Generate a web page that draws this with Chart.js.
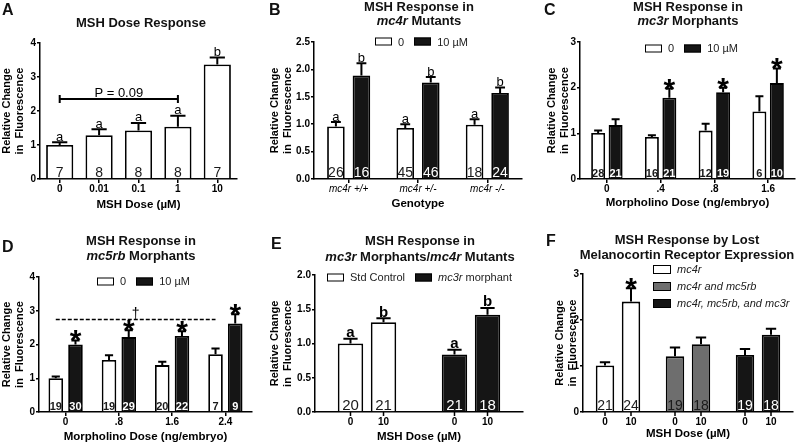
<!DOCTYPE html>
<html>
<head>
<meta charset="utf-8">
<script src="https://cdn.jsdelivr.net/npm/chart.js@4.4.0/dist/chart.umd.min.js"></script>
<style>
  body { margin: 0; background: #fff; }
  #fig { position: relative; width: 797px; height: 445px; overflow: hidden;
         font-family: 'Liberation Sans', Arial, Helvetica, sans-serif; color: #111; }
  #fig canvas { position: absolute; }
  .letter { position: absolute; font-weight: bold; font-size: 16px; line-height: 1; }
  .ttl { position: absolute; font-weight: bold; font-size: 13px; line-height: 1;
         transform: translate(-50%, -50%); white-space: nowrap; }
  .leg { position: absolute; display: flex; align-items: center; font-size: 11px; line-height: 1;
         transform: translateY(-50%); white-space: nowrap; color: #222; }
  .leg .it { display: flex; align-items: center; }
  .leg .box { width: 17px; height: 8px; border: 1.5px solid #000; box-sizing: border-box; margin-right: 6px; }
  .leg span { margin-right: 10px; }
  .leg.vert { flex-direction: column; align-items: flex-start; transform: none; font-style: italic; }
  .leg.vert .it { height: 17px; }
  .leg.vert .box { width: 18px; height: 9px; }
</style>
</head>
<body>
<div id="fig">
  <canvas id="cA" width="265" height="220" style="left:0;top:0"></canvas>
  <canvas id="cB" width="265" height="220" style="left:265px;top:0"></canvas>
  <canvas id="cC" width="267" height="220" style="left:530px;top:0"></canvas>
  <canvas id="cD" width="265" height="225" style="left:0;top:220px"></canvas>
  <canvas id="cE" width="265" height="225" style="left:265px;top:220px"></canvas>
  <canvas id="cF" width="267" height="225" style="left:530px;top:220px"></canvas>

  <div class="letter" style="left:2px;top:2px">A</div>
  <div class="letter" style="left:269px;top:2px">B</div>
  <div class="letter" style="left:544px;top:2px">C</div>
  <div class="letter" style="left:2px;top:239px">D</div>
  <div class="letter" style="left:271px;top:236px">E</div>
  <div class="letter" style="left:546px;top:233px">F</div>

  <div class="ttl" style="left:141px;top:22px">MSH Dose Response</div>
  <div class="ttl" style="left:419px;top:6px">MSH Response in</div>
  <div class="ttl" style="left:419px;top:20px"><i>mc4r</i> Mutants</div>
  <div class="ttl" style="left:688px;top:6px">MSH Response in</div>
  <div class="ttl" style="left:688px;top:20px"><i>mc3r</i> Morphants</div>
  <div class="ttl" style="left:141px;top:240px">MSH Response in</div>
  <div class="ttl" style="left:141px;top:255px"><i>mc5rb</i> Morphants</div>
  <div class="ttl" style="left:420px;top:240px">MSH Response in</div>
  <div class="ttl" style="left:420px;top:256px"><i>mc3r</i> Morphants/<i>mc4r</i> Mutants</div>
  <div class="ttl" style="left:687px;top:239px">MSH Response by Lost</div>
  <div class="ttl" style="left:687px;top:254px">Melanocortin Receptor Expression</div>
</div>

<script>
const FONT = "'Liberation Sans', Arial, Helvetica, sans-serif";
const WHITE = '#ffffff';
const BLACK = '#151515';
const GRAY = '#6e6e6e';

// --- Data ---

const treatLabels = ['0', '10 µM'];
const yTitle = ['Relative Change', 'in  Fluorescence'];

// A: dose response
const dosesA = ['0', '0.01', '0.1', '1', '10'];
const meanA = [1.0, 1.29, 1.43, 1.54, 3.37];
const semA = [0.08, 0.17, 0.22, 0.32, 0.2];
const nA = [7, 8, 8, 8, 7];
const sigA = ['a', 'a', 'a', 'a', 'b'];

// B: mc4r mutants
const genotypesB = ['mc4r +/+', 'mc4r +/-', 'mc4r -/-'];
const vehicleB = [0.96, 0.93, 0.99];
const vehicleSemB = [0.08, 0.07, 0.1];
const mshB = [1.89, 1.76, 1.57];
const mshSemB = [0.22, 0.1, 0.1];
const vehicleNB = [26, 45, 18];
const mshNB = [16, 46, 24];
const vehicleSigB = ['a', 'a', 'a'];
const mshSigB = ['b', 'b', 'b'];

// C: mc3r morphants
const moDoseC = ['0', '.4', '.8', '1.6'];
const vehicleC = [1.01, 0.92, 1.06, 1.48];
const vehicleSemC = [0.05, 0.04, 0.15, 0.33];
const mshC = [1.18, 1.78, 1.9, 2.1];
const mshSemC = [0.13, 0.2, 0.1, 0.32];
const vehicleNC = [28, 16, 12, 6];
const mshNC = [21, 21, 19, 10];
const mshSigC = ['', '*', '*', '*'];

// D: mc5rb morphants
const moDoseD = ['0', '.8', '1.6', '2.4'];
const vehicleD = [1.0, 1.54, 1.39, 1.71];
const vehicleSemD = [0.05, 0.14, 0.1, 0.17];
const mshD = [2.0, 2.22, 2.25, 2.62];
const mshSemD = [0.12, 0.2, 0.14, 0.28];
const vehicleND = [19, 19, 20, 7];
const mshND = [30, 29, 22, 9];
const mshSigD = ['*', '*', '*', '*'];

// E: mc3r morphants in mc4r mutants (values per group: [0, 10])
const mshDoses = ['0', '10'];
const groupsE = ['Std Control', 'mc3r morphant'];
const stdControlE = [1.0, 1.31];
const stdControlSemE = [0.07, 0.06];
const morphantE = [0.84, 1.42];
const morphantSemE = [0.07, 0.1];
const stdControlNE = [20, 21];
const morphantNE = [21, 18];
const sigE = ['a', 'b'];

// F: lost receptor expression (values per group: [0, 10])
const groupsF = ['mc4r', 'mc4r and mc5rb', 'mc4r, mc5rb, and mc3r'];
const mc4rF = [1.01, 2.4];
const mc4rSemF = [0.07, 0.29];
const mc4r5rbF = [1.21, 1.475];
const mc4r5rbSemF = [0.19, 0.145];
const tripleF = [1.24, 1.68];
const tripleSemF = [0.13, 0.13];
const mc4rNF = [21, 24];
const mc4r5rbNF = [19, 18];
const tripleNF = [19, 18];

// --- Helpers ---

// turn per-group [dose0, dose10] arrays into per-dose arrays over groups
function byDose(groups) {
    return mshDoses.map((_, d) => groups.map(g => g[d]));
}

const extras = {};

const marksPlugin = {
    id: 'marks',
    afterDatasetsDraw(chart) {
        const ex = extras[chart.canvas.id];
        if (!ex) return;
        const ctx = chart.ctx;
        const y = chart.scales.y;
        const area = chart.chartArea;
        ctx.save();
        ctx.textAlign = 'center';
        chart.data.datasets.forEach((ds, di) => {
            const meta = chart.getDatasetMeta(di);
            meta.data.forEach((bar, i) => {
                const v = ds.data[i];
                if (v == null) return;
                const top = y.getPixelForValue(v + ex.err[di][i]);
                const half = Math.max(4, bar.width * 0.28);

                // error bar (upper only)
                ctx.strokeStyle = '#000';
                ctx.lineWidth = 2;
                ctx.beginPath();
                ctx.moveTo(bar.x, bar.y);
                ctx.lineTo(bar.x, top);
                ctx.moveTo(bar.x - half, top);
                ctx.lineTo(bar.x + half, top);
                ctx.stroke();

                // n inside the bar
                const fill = Array.isArray(ds.backgroundColor) ? ds.backgroundColor[i] : ds.backgroundColor;
                ctx.fillStyle = fill === BLACK ? '#fff' : '#1a1a1a';
                ctx.font = ex.nFont;
                ctx.textBaseline = 'alphabetic';
                ctx.fillText(String(ex.n[di][i]), bar.x, area.bottom - 2);

                // letters / stars
                const s = ex.sig && ex.sig[di] && ex.sig[di][i];
                ctx.fillStyle = '#000';
                if (s === '*') {
                    ctx.font = 'bold 30px ' + FONT;
                    ctx.fillText('*', bar.x, top + 10);
                } else if (s) {
                    ctx.font = ex.sigFont;
                    ctx.fillText(s, bar.x, top - 1.5);
                }

                // dose labels under each bar
                if (ex.doseLabels) {
                    ctx.lineWidth = 1.5;
                    ctx.beginPath();
                    ctx.moveTo(bar.x, area.bottom);
                    ctx.lineTo(bar.x, area.bottom + 4);
                    ctx.stroke();
                    ctx.font = 'bold 10px ' + FONT;
                    ctx.textBaseline = 'middle';
                    ctx.fillText(ds.label, bar.x, area.bottom + 10);
                }
            });
        });

        if (ex.bracket) {
            const b = ex.bracket;
            const bars = chart.getDatasetMeta(0).data;
            const x1 = bars[b.from].x;
            const x2 = bars[b.to].x;
            const yy = y.getPixelForValue(b.value);
            ctx.strokeStyle = '#000';
            ctx.lineWidth = b.dashed ? 1.5 : 2;
            ctx.setLineDash(b.dashed ? [4, 2] : []);
            ctx.beginPath();
            ctx.moveTo(x1, yy);
            ctx.lineTo(x2, yy);
            ctx.stroke();
            ctx.setLineDash([]);
            if (!b.dashed) {
                ctx.beginPath();
                ctx.moveTo(x1, yy - 4); ctx.lineTo(x1, yy + 4);
                ctx.moveTo(x2, yy - 4); ctx.lineTo(x2, yy + 4);
                ctx.stroke();
            }
            ctx.font = b.font;
            ctx.fillStyle = '#000';
            ctx.textBaseline = 'alphabetic';
            ctx.fillText(b.text, (x1 + x2) / 2, yy - 2);
        }
        ctx.restore();
    }
};

function makeChart(id, cfg) {
    const tickFont = { family: FONT, size: 10, weight: 'bold' };
    return new Chart(document.getElementById(id), {
        type: 'bar',
        data: {
            labels: cfg.labels,
            datasets: cfg.datasets.map(d => ({
                label: d.label,
                data: d.data,
                backgroundColor: d.color,
                borderColor: '#000',
                borderWidth: 1.8,
                borderSkipped: 'bottom',
                barPercentage: cfg.barPct,
                categoryPercentage: cfg.catPct
            }))
        },
        options: {
            responsive: false,
            animation: false,
            events: [],
            layout: { padding: { top: cfg.padT, right: cfg.padR, left: 0, bottom: 0 } },
            plugins: { legend: { display: false }, tooltip: { enabled: false } },
            scales: {
                x: {
                    offset: true,
                    afterFit(s) { s.height = cfg.xH; },
                    border: { color: '#000', width: 1.5 },
                    grid: { display: !cfg.doseTicks, offset: false, drawOnChartArea: false,
                            tickLength: 4, color: '#000', lineWidth: 1.5 },
                    ticks: { display: !cfg.doseTicks, color: '#000', padding: 0, maxRotation: 0,
                             autoSkip: false, font: cfg.xFont || tickFont },
                    title: { display: true, text: cfg.xTitle, color: '#000',
                             font: { family: FONT, size: 11.5, weight: 'bold', lineHeight: 1.2 },
                             padding: { top: 0, bottom: cfg.xTitlePad } }
                },
                y: {
                    min: 0,
                    max: cfg.yMax,
                    afterFit(s) { s.width = cfg.yW; },
                    border: { color: '#000', width: 1.5 },
                    grid: { drawOnChartArea: false, tickLength: 3, color: '#000', lineWidth: 1.5 },
                    ticks: { stepSize: cfg.yStep, color: '#000', padding: 1, font: tickFont,
                             callback: v => v.toFixed(cfg.yDec) },
                    title: { display: true, text: yTitle, color: '#000',
                             font: { family: FONT, size: 11, weight: 'bold', lineHeight: 1.2 },
                             padding: { top: cfg.yTitlePad, bottom: 0 } }
                }
            }
        },
        plugins: [marksPlugin]
    });
}

function legend(left, top, items, vertical) {
    const el = document.createElement('div');
    el.className = 'leg' + (vertical ? ' vert' : '');
    el.style.left = left + 'px';
    el.style.top = top + 'px';
    items.forEach(([label, color]) => {
        const it = document.createElement('div');
        it.className = 'it';
        const box = document.createElement('div');
        box.className = 'box';
        box.style.background = color;
        const t = document.createElement('span');
        t.innerHTML = vertical ? label : label.replace(/(mc\d\w*)/g, '<i>$1</i>');
        it.append(box, t);
        el.append(it);
    });
    document.getElementById('fig').append(el);
}

// --- Panels ---

extras.cA = {
    err: [semA], n: [nA], sig: [sigA],
    nFont: '14px ' + FONT, sigFont: '13px ' + FONT,
    bracket: { from: 0, to: 3, value: 2.35, text: 'P = 0.09', font: '13px ' + FONT }
};
makeChart('cA', {
    labels: dosesA,
    datasets: [{ label: 'MSH', data: meanA, color: WHITE }],
    barPct: 0.69, catPct: 1,
    yMax: 4, yStep: 1, yDec: 0,
    padT: 43, padR: 28, yW: 40, xH: 41, yTitlePad: 0.4,
    xTitle: 'MSH Dose (µM)', xTitlePad: 8.4
});

extras.cB = {
    err: [vehicleSemB, mshSemB], n: [vehicleNB, mshNB], sig: [vehicleSigB, mshSigB],
    nFont: '14px ' + FONT, sigFont: '13px ' + FONT
};
makeChart('cB', {
    labels: genotypesB,
    datasets: [
        { label: treatLabels[0], data: vehicleB, color: WHITE },
        { label: treatLabels[1], data: mshB, color: BLACK }
    ],
    barPct: 0.69, catPct: 0.736,
    yMax: 2.5, yStep: 0.5, yDec: 1,
    padT: 42, padR: 8, yW: 49, xH: 41, yTitlePad: 3.4,
    xTitle: 'Genotype', xTitlePad: 9.4,
    xFont: { family: FONT, size: 10, style: 'italic', weight: 'normal' }
});
legend(375, 41.5, [[treatLabels[0], WHITE], [treatLabels[1], BLACK]]);

extras.cC = {
    err: [vehicleSemC, mshSemC], n: [vehicleNC, mshNC], sig: [[], mshSigC],
    nFont: 'bold 11px ' + FONT
};
makeChart('cC', {
    labels: moDoseC,
    datasets: [
        { label: treatLabels[0], data: vehicleC, color: WHITE },
        { label: treatLabels[1], data: mshC, color: BLACK }
    ],
    barPct: 0.8, catPct: 0.65,
    yMax: 3, yStep: 1, yDec: 0,
    padT: 42, padR: 2, yW: 50, xH: 41, yTitlePad: 15.4,
    xTitle: 'Morpholino Dose (ng/embryo)', xTitlePad: 10.4
});
legend(645, 48, [[treatLabels[0], WHITE], [treatLabels[1], BLACK]]);

extras.cD = {
    err: [vehicleSemD, mshSemD], n: [vehicleND, mshND], sig: [[], mshSigD],
    nFont: 'bold 11px ' + FONT,
    bracket: { from: 0, to: 3, value: 2.74, text: '†', font: '14px ' + FONT, dashed: true }
};
makeChart('cD', {
    labels: moDoseD,
    datasets: [
        { label: treatLabels[0], data: vehicleD, color: WHITE },
        { label: treatLabels[1], data: mshD, color: BLACK }
    ],
    barPct: 0.74, catPct: 0.74,
    yMax: 4, yStep: 1, yDec: 0,
    padT: 57, padR: 13, yW: 39, xH: 33, yTitlePad: 0,
    xTitle: 'Morpholino Dose (ng/embryo)', xTitlePad: 1.1
});
legend(97, 281, [[treatLabels[0], WHITE], [treatLabels[1], BLACK]]);

extras.cE = {
    err: byDose([stdControlSemE, morphantSemE]),
    n: byDose([stdControlNE, morphantNE]),
    sig: mshDoses.map((_, d) => groupsE.map(() => sigE[d])),
    nFont: '15px ' + FONT, sigFont: 'bold 15px ' + FONT,
    doseLabels: true
};
makeChart('cE', {
    labels: groupsE,
    datasets: byDose([stdControlE, morphantE]).map((data, d) => ({
        label: mshDoses[d], data, color: [WHITE, BLACK]
    })),
    barPct: 0.77, catPct: 0.635,
    yMax: 2, yStep: 0.5, yDec: 1,
    padT: 55, padR: 7, yW: 50, xH: 33, yTitlePad: 3.4,
    xTitle: 'MSH Dose (µM)', xTitlePad: 1.1, doseTicks: true
});
legend(327, 277, [[groupsE[0], WHITE], [groupsE[1], BLACK]]);

extras.cF = {
    err: byDose([mc4rSemF, mc4r5rbSemF, tripleSemF]),
    n: byDose([mc4rNF, mc4r5rbNF, tripleNF]),
    sig: [['', '', ''], ['*', '', '']],
    nFont: '14px ' + FONT,
    doseLabels: true
};
makeChart('cF', {
    labels: groupsF,
    datasets: byDose([mc4rF, mc4r5rbF, tripleF]).map((data, d) => ({
        label: mshDoses[d], data, color: [WHITE, GRAY, BLACK]
    })),
    barPct: 0.71, catPct: 0.743,
    yMax: 3, yStep: 1, yDec: 0,
    padT: 54, padR: 4, yW: 53, xH: 33, yTitlePad: 23,
    xTitle: 'MSH Dose (µM)', xTitlePad: 4, doseTicks: true
});
legend(653, 260.5, [[groupsF[0], WHITE], [groupsF[1], GRAY], [groupsF[2], BLACK]], true);
</script>
</body>
</html>
